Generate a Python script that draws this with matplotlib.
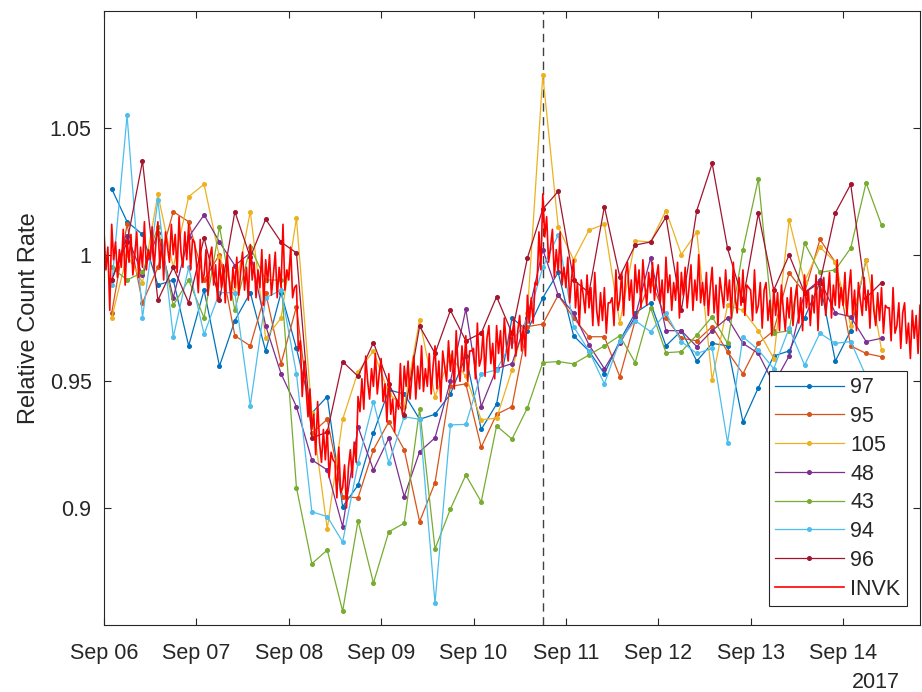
import numpy as np
import matplotlib
matplotlib.use("Agg")
import matplotlib.pyplot as plt
import matplotlib.dates as mdates

plt.rcParams['font.family'] = ['Liberation Sans', 'DejaVu Sans']

nan = np.nan

# Station relative count rates, 4-hour bins starting 2017-09-06 02:00
station_start = np.datetime64('2017-09-06T02:00')
station_step = np.timedelta64(4, 'h')

st_97 = [1.026, 1.013, 1.008, 0.988, 0.990, 0.964, 0.986, 0.956, 0.974, 0.985,
         0.962, 0.985, 0.963, 0.9375, 0.944, 0.9005, 0.909, 0.9296, 0.9466, 0.945,
         0.935, 0.937, 0.945, 0.960, 0.931, 0.941, 0.975, 0.970, 0.983, 0.993,
         0.968, 0.962, 0.953, 0.966, 0.977, 0.981, 0.964, 0.970, 0.958, 0.965,
         0.964, 0.934, 0.9475, 0.960, 0.962, 0.975, 0.989, 0.958, 0.970, 0.998, nan]
st_95 = [0.977, 1.012, 0.981, 0.995, 1.017, 1.013, 0.990, 1.000, 0.968, 0.964,
         0.985, 0.957, 0.9795, 0.9296, 0.935, 0.9045, 0.904, 0.923, 0.934, 0.923,
         0.8946, 0.910, 0.948, 0.949, 0.924, 0.937, 0.940, 0.9716, 0.9726, 0.984,
         0.975, 0.9676, 0.9676, 0.9518, 0.974, 0.990, 0.975, 0.967, 0.966, 0.9716,
         0.9617, 0.953, 0.965, 0.970, 0.9928, 0.985, 1.006, 0.997, 0.964, 0.961, 0.9597]
st_105 = [0.975, 1.000, 0.989, 1.0238, 0.995, 1.0229, 1.0278, 0.999, 0.985, 1.017,
          0.967, 0.975, 1.0144, 0.9375, 0.8917, 0.935, 0.9538, 0.962, 0.945, 0.940,
          0.9742, 0.944, 0.960, 0.952, 0.9348, 0.9355, 0.9545, 0.977, 1.071, 1.011,
          0.998, 1.0097, 1.012, 0.973, 1.0055, 1.005, 1.0174, 1.000, 1.009, 0.9505,
          0.980, 0.978, 0.970, 0.959, 1.0137, 0.9893, 1.003, 0.997, 0.972, 0.998, 0.9624]
st_48 = [0.990, 1.0074, 0.992, 1.0085, 0.983, 1.007, 1.0157, 1.005, 0.9957, 1.0007,
         0.972, 0.953, 0.940, 0.919, 0.915, 0.8926, 0.932, 0.915, 0.9276, 0.9045,
         0.9222, 0.9277, 0.950, 0.9785, 0.940, 0.955, 0.957, 0.975, 1.002, 0.984,
         0.977, 0.9644, 0.955, 0.965, 0.9755, 0.9987, 0.970, 0.970, 0.9637, 0.970,
         0.975, 0.965, 0.961, 0.949, 0.960, 0.985, 0.990, 0.977, 0.9755, 0.9657, 0.967]
st_43 = [0.995, 0.990, 0.993, 1.011, 0.980, 0.990, 0.975, 1.011, 0.978, 1.003,
         0.990, 0.990, 0.908, 0.878, 0.8834, 0.8593, 0.895, 0.8704, 0.8906, 0.894,
         0.939, 0.8838, 0.8996, 0.913, 0.9024, 0.9324, 0.9272, 0.9395, 0.9574, 0.9578,
         0.9569, 0.9604, 0.964, 0.968, 0.9574, 0.979, 0.9613, 0.9617, 0.9683, 0.9755,
         0.965, 1.002, 1.030, 0.969, 0.970, 1.0046, 0.993, 0.994, 1.0026, 1.0284, 1.0117]
st_94 = [0.988, 1.055, 0.975, 1.0216, 0.9675, 0.995, 0.9686, 0.985, 0.985, 0.9404,
         0.983, 0.986, 0.953, 0.8985, 0.8966, 0.8866, 0.9177, 0.942, 0.9178, 0.936,
         0.935, 0.8624, 0.9328, 0.933, 0.953, 0.9545, 0.966, 0.974, 0.995, 1.0078,
         0.9716, 0.962, 0.949, 0.966, 0.974, 0.9696, 0.977, 0.9657, 0.961, 0.963,
         0.9258, 0.9676, 0.9624, 0.955, 0.971, 0.9564, 0.969, 0.965, 0.9657, 0.952, nan]
st_96 = [0.990, 1.005, 1.037, 0.982, 0.995, 0.981, 1.0066, 0.982, 1.017, 0.999,
         1.014, 1.005, 1.0007, 0.9276, 0.930, 0.9578, 0.952, 0.9653, 0.949, 0.9367,
         0.9718, 0.961, 0.978, 0.966, 0.969, 0.9834, 0.969, 0.9987, 1.018, 1.025,
         0.990, 0.985, 1.019, 0.9913, 1.0038, 1.005, 1.0148, 0.978, 1.0174, 1.036,
         1.0025, 0.982, 1.0163, 0.986, 0.9999, 0.985, 0.989, 1.0165, 1.0278, 0.983, 0.989]

station_names = ['97', '95', '105', '48', '43', '94', '96']
station_series = [st_97, st_95, st_105, st_48, st_43, st_94, st_96]
station_colors = ['#0072BD', '#D95319', '#EDB120', '#7E2F8E',
                  '#77AC30', '#4DBEEE', '#A2142F']

# INVK neutron monitor, 30-minute values starting 2017-09-06 00:00
invk_start = np.datetime64('2017-09-06T00:00')
invk_step = np.timedelta64(30, 'm')
invk = [
    # Sep 06
    1.009, 0.994, 1.003, 0.978, 1.012, 0.998, 1.005, 0.991, 1.002, 0.995, 1.010, 0.988,
    1.006, 0.997, 1.008, 0.992, 1.000, 1.009, 0.991, 1.003, 0.995, 1.013, 0.994, 1.002,
    0.998, 1.011, 0.994, 1.005, 1.013, 0.995, 1.006, 0.990, 1.009, 1.003, 0.997, 1.012,
    1.000, 1.008, 0.993, 1.015, 1.001, 0.995, 1.009, 0.998, 1.012, 0.994, 1.006, 1.005,
    # Sep 07
    0.997, 0.985, 1.006, 0.989, 0.992, 1.002, 0.984, 0.999, 1.003, 0.988, 0.996, 0.982,
    0.998, 0.987, 0.996, 0.981, 1.000, 0.990, 0.982, 0.995, 0.987, 0.999, 0.984, 0.993,
    1.001, 0.986, 0.995, 0.982, 1.004, 0.990, 0.997, 0.983, 0.994, 0.987, 1.002, 0.980,
    0.998, 0.989, 1.000, 0.984, 0.992, 1.001, 0.983, 0.995, 0.987, 1.012, 0.986, 0.994,
    # Sep 08
    0.990, 1.003, 0.983, 0.987, 0.988, 0.962, 0.966, 0.944, 0.958, 0.947, 0.936, 0.947,
    0.931, 0.937, 0.921, 0.942, 0.926, 0.918, 0.931, 0.919, 0.931, 0.912, 0.922, 0.919,
    0.918, 0.904, 0.924, 0.906, 0.908, 0.917, 0.900, 0.916, 0.923, 0.912, 0.926, 0.918,
    0.944, 0.938, 0.951, 0.939, 0.960, 0.950, 0.943, 0.955, 0.948, 0.961, 0.945, 0.953,
    # Sep 09
    0.959, 0.942, 0.949, 0.934, 0.953, 0.937, 0.943, 0.930, 0.943, 0.939, 0.957, 0.937,
    0.956, 0.948, 0.958, 0.943, 0.952, 0.960, 0.943, 0.956, 0.947, 0.964, 0.946, 0.955,
    0.948, 0.961, 0.945, 0.956, 0.964, 0.947, 0.958, 0.942, 0.962, 0.956, 0.950, 0.966,
    0.954, 0.962, 0.947, 0.970, 0.956, 0.950, 0.964, 0.954, 0.968, 0.950, 0.962, 0.962,
    # Sep 10
    0.963, 0.951, 0.973, 0.956, 0.959, 0.970, 0.952, 0.967, 0.972, 0.957, 0.965, 0.951,
    0.972, 0.961, 0.970, 0.956, 0.975, 0.965, 0.958, 0.971, 0.963, 0.975, 0.960, 0.970,
    0.976, 0.962, 0.972, 0.960, 0.984, 0.973, 0.983, 0.973, 0.989, 0.988, 1.009, 0.994,
    1.024, 1.007, 1.015, 0.997, 1.003, 1.010, 0.991, 1.002, 0.993, 1.009, 0.988, 0.995,
    # Sep 11
    0.987, 0.999, 0.981, 0.991, 0.998, 0.979, 0.989, 0.972, 0.990, 0.984, 0.977, 0.992,
    0.979, 0.987, 0.972, 0.993, 0.978, 0.972, 0.985, 0.974, 0.987, 0.969, 0.981, 0.981,
    0.983, 0.972, 0.994, 0.978, 0.982, 0.993, 0.976, 0.992, 0.997, 0.982, 0.990, 0.976,
    0.996, 0.985, 0.994, 0.979, 0.998, 0.988, 0.980, 0.993, 0.985, 0.997, 0.982, 0.991,
    # Sep 12
    0.996, 0.981, 0.990, 0.977, 0.999, 0.985, 0.992, 0.978, 0.989, 0.982, 0.997, 0.975,
    0.993, 0.984, 0.995, 0.979, 0.987, 0.996, 0.978, 0.990, 0.982, 1.000, 0.981, 0.989,
    0.980, 0.993, 0.976, 0.987, 0.995, 0.977, 0.988, 0.972, 0.991, 0.985, 0.979, 0.994,
    0.982, 0.990, 0.975, 0.997, 0.983, 0.977, 0.991, 0.980, 0.994, 0.976, 0.988, 0.987,
    # Sep 13
    0.986, 0.974, 0.994, 0.977, 0.980, 0.989, 0.971, 0.986, 0.989, 0.974, 0.982, 0.968,
    0.987, 0.976, 0.985, 0.970, 0.988, 0.978, 0.970, 0.983, 0.975, 0.987, 0.972, 0.982,
    0.988, 0.973, 0.983, 0.970, 0.992, 0.979, 0.986, 0.972, 0.984, 0.977, 0.992, 0.970,
    0.989, 0.980, 0.991, 0.976, 0.984, 0.993, 0.975, 0.988, 0.980, 0.998, 0.979, 0.987,
    # Sep 14
    0.980, 0.993, 0.976, 0.986, 0.994, 0.976, 0.986, 0.970, 0.989, 0.982, 0.976, 0.991,
    0.978, 0.986, 0.971, 0.992, 0.978, 0.972, 0.985, 0.974, 0.987, 0.969, 0.980, 0.979,
    0.979, 0.966, 0.987, 0.969, 0.972, 0.981, 0.963, 0.977, 0.981, 0.965, 0.973, 0.959,
    0.978, 0.967, 0.976, 0.961, 0.980,
]

event_time = np.datetime64('2017-09-10T18:00')
ytick_values = [0.9, 0.95, 1.0, 1.05]
ytick_labels = ['0.9', '0.95', '1', '1.05']
year_label = '2017'

W, H = 922, 692
fig = plt.figure(figsize=(W / 100, H / 100), dpi=100)
ax = fig.add_axes([104 / W, 1 - 625 / H, 816 / W, 614 / H])

n_st = len(st_97)
station_times = station_start + np.arange(n_st) * station_step
for name, vals, col in zip(station_names, station_series, station_colors):
    ax.plot(station_times.astype('datetime64[m]').astype(object), vals, '-o',
            color=col, lw=0.9, ms=2.6, mec=col, mfc=col, label=name)

invk_times = invk_start + np.arange(len(invk)) * invk_step
invk_dt = invk_times.astype('datetime64[m]').astype(object)
ax.plot(invk_dt, invk, '-', color='#FF0000', lw=1.2, label='INVK')

ax.axvline(event_time.astype('datetime64[m]').astype(object), color='#404040',
           lw=1.0, ls=(0, (6, 4)), zorder=1)

ax.set_xlim(invk_dt[0], invk_dt[-1])
ax.set_ylim(0.8538, 1.0962)
ax.set_yticks(ytick_values)
ax.set_yticklabels(ytick_labels)
ax.xaxis.set_major_locator(mdates.DayLocator())
ax.xaxis.set_major_formatter(mdates.DateFormatter('%b %d'))

dark = '#262626'
for sp in ax.spines.values():
    sp.set_color(dark)
    sp.set_linewidth(0.8)
ax.tick_params(direction='in', top=True, right=True, length=5, width=0.8,
               colors=dark, labelsize=15.5)
ax.tick_params(axis='y', pad=9)
ax.tick_params(axis='x', pad=13)

ax.set_ylabel('Relative Count Rate', fontsize=17, color=dark, labelpad=7)
fig.text(900 / W, 1 - 682 / H, year_label, ha='right', va='center',
         fontsize=15.5, color=dark)

leg = ax.legend(loc='lower right', bbox_to_anchor=(0.984, 0.031), fontsize=15.5,
                frameon=True, fancybox=False, edgecolor=dark, framealpha=1,
                handlelength=3.2, labelspacing=0.36, borderpad=0.3,
                handletextpad=0.3, borderaxespad=0)
leg.get_frame().set_linewidth(0.8)
for t in leg.get_texts():
    t.set_color(dark)

fig.savefig('out.png', dpi=100, facecolor='white')
